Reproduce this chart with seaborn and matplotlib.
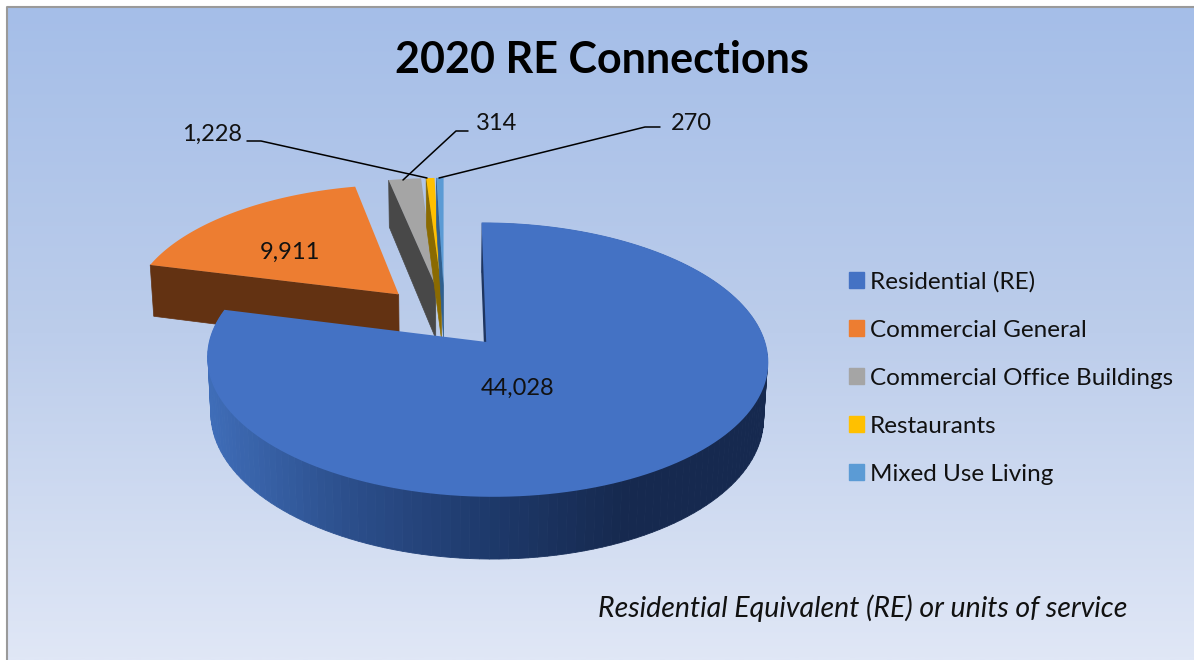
# 2020 RE Connections - exploded 3D style pie

import numpy as np
import seaborn as sns
import matplotlib.pyplot as plt
from matplotlib.colors import LinearSegmentedColormap
from matplotlib.patches import Patch

categories = ["Residential (RE)", "Commercial General", "Commercial Office Buildings",
              "Restaurants", "Mixed Use Living"]
connections = [44028, 9911, 1228, 314, 270]
value_labels = ["44,028", "9,911", "1,228", "314", "270"]
face_colors = ["#4472C4", "#ED7D31", "#A5A5A5", "#FFC000", "#5B9BD5"]
cut_colors = ["#1E3560", "#633212", "#484848", "#8A6A00", "#2F5F8F"]

sns.set_theme(style="white")
plt.rcParams["font.family"] = ["Lato", "DejaVu Sans"]

# pie geometry in pixels
CX, CY = 444.5, 317
RX, RY = 271, 128
TILT = 0.12
DEPTH = 54
EXPLODE = 0.25


def project(u, v, z=0.0):
    s = 1 / (1 + TILT * v)
    x = CX + RX * u * s * (1 - 0.012 * z)
    y = CY - RY * v * s + DEPTH * s * z
    return x, y


def slice_outline(a0, a1, mid, z=0.0):
    # angles are clockwise from 12 o'clock
    off_u, off_v = EXPLODE * np.sin(mid), EXPLODE * np.cos(mid)
    arc = np.linspace(a0, a1, 160)
    us = np.r_[off_u, off_u + np.sin(arc)]
    vs = np.r_[off_v, off_v + np.cos(arc)]
    return project(us, vs, z)


fig = plt.figure(figsize=(11.94, 6.6), dpi=100)
ax = fig.add_axes([0, 0, 1, 1])
ax.axis("off")

# chart area background
back = LinearSegmentedColormap.from_list("back", ["#A5BEE8", "#BCCDEB", "#E0E7F6"])
ax.imshow(np.linspace(0, 1, 300).reshape(-1, 1), cmap=back, extent=(7, 1194, 660, 7),
          aspect="auto", zorder=0)
ax.set_xlim(0, 1194)
ax.set_ylim(660, 0)
ax.plot([6.5, 6.5, 1194], [660, 6.5, 6.5], color="#9a9a9a", lw=1.5, zorder=1)

fractions = np.array(connections) / sum(connections)
ends = np.cumsum(fractions) * 2 * np.pi
starts = ends - fractions * 2 * np.pi
mids = (starts + ends) / 2

# back slices first, the big blue one goes last
for i in [1, 2, 3, 4]:
    px, py = slice_outline(starts[i], ends[i], mids[i])
    bx, by = slice_outline(starts[i], ends[i], mids[i], 1.0)
    # the cut face on the left side of each slice is the visible one
    ax.fill([px[0], px[1], bx[1], bx[0]], [py[0], py[1], by[1], by[0]],
            color=cut_colors[i], lw=0.5, zorder=2 + i)
    ax.fill(px, py, color=face_colors[i], lw=0, zorder=2.5 + i)

# blue rim, shaded left to right
px, py = slice_outline(starts[0], ends[0], mids[0])
bx, by = slice_outline(starts[0], ends[0], mids[0], 1.0)
rim = LinearSegmentedColormap.from_list("rim", ["#3F6DB8", "#2C4F8C", "#1E3A6C", "#16294F", "#16294F"])
xmin, xmax = px.min(), px.max()
for j in range(1, len(px) - 1):
    shade = rim((px[j] - xmin) / (xmax - xmin))
    ax.fill([px[j], px[j + 1], bx[j + 1], bx[j]], [py[j], py[j + 1], by[j + 1], by[j]],
            color=shade, lw=0.6, zorder=8)
ax.fill([px[0], px[1], bx[1], bx[0]], [py[0], py[1], by[1], by[0]], color=cut_colors[0], lw=1, zorder=8)
ax.fill(px, py, color=face_colors[0], lw=1.2, zorder=9)

# value labels and leader lines
ax.text(518, 388, value_labels[0], ha="center", va="center", fontsize=17, color="#111111", zorder=10)
ax.text(290, 252, value_labels[1], ha="center", va="center", fontsize=17, color="#111111", zorder=10)
ax.text(212, 134, value_labels[2], ha="center", va="center", fontsize=17, color="#111111", zorder=10)
ax.text(497, 124, value_labels[3], ha="center", va="center", fontsize=17, color="#111111", zorder=10)
ax.text(691, 124, value_labels[4], ha="center", va="center", fontsize=17, color="#111111", zorder=10)
ax.plot([247, 261, 427], [141, 141, 178], color="black", lw=1.1, zorder=10)
ax.plot([468, 456, 403], [131, 131, 180], color="black", lw=1.1, zorder=10)
ax.plot([660, 645, 439], [127, 127, 178], color="black", lw=1.1, zorder=10)

ax.text(602, 60, "2020 RE Connections", ha="center", va="center", fontsize=31,
        fontweight="bold", color="black", zorder=10)
ax.text(1127, 608, "Residential Equivalent (RE) or units of service", ha="right", va="center",
        fontsize=20.5, fontstyle="italic", color="#111111", zorder=10)

handles = [Patch(color=c, label=n) for c, n in zip(face_colors, categories)]
leg = ax.legend(handles=handles, loc="upper left", bbox_to_anchor=(849 / 1194, 1 - 271 / 660),
                frameon=False, fontsize=17.5, handlelength=0.62, handleheight=0.62,
                handletextpad=0.25, labelspacing=1.115, borderaxespad=0, borderpad=0)
for t in leg.get_texts():
    t.set_color("#111111")

fig.savefig("out.png", dpi=100)
